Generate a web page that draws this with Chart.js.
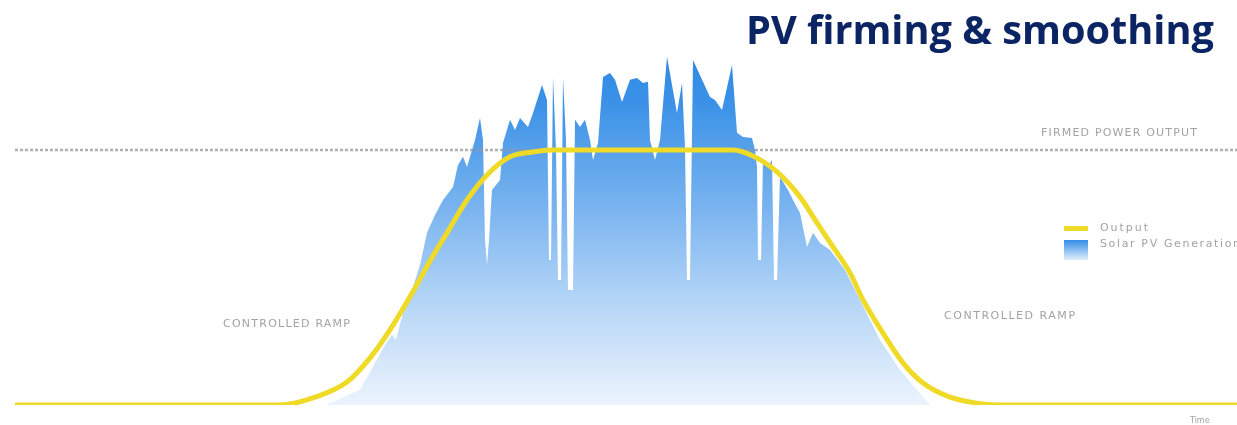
<!DOCTYPE html>
<html>
<head>
<meta charset="utf-8">
<script src="https://cdn.jsdelivr.net/npm/chart.js@4"></script>
<style>
  body { margin: 0; background: #fff; }
  #pv-chart { display: block; }
</style>
</head>
<body>
<canvas id="pv-chart" width="1237" height="425"></canvas>
<script>
// time axis is in arbitrary minutes, power in % of the firmed level
var pvTime = [305, 340, 365, 372, 376, 385, 393, 400, 407, 415, 423, 433, 438, 443, 447, 455, 460, 463, 465, 467, 469, 472, 480, 483, 490, 495, 500, 508, 513, 522, 527, 529, 531, 533, 536, 538, 541, 543, 546, 548, 553, 555, 560, 565, 570, 573, 578, 583, 590, 595, 602, 610, 617, 623, 628, 630, 635, 640, 647, 657, 662, 665, 667, 670, 673, 690, 695, 702, 712, 717, 723, 732, 735, 737, 738, 741, 743, 748, 752, 754, 757, 760, 768, 773, 780, 787, 793, 800, 810, 825, 840, 860, 880, 910];
var pvPower = [0, 5.9, 23.5, 27.5, 25.5, 39.2, 46.3, 54.9, 67.5, 74.5, 80.4, 85.5, 94.1, 97.3, 93.3, 103.9, 112.5, 103.9, 64.7, 54.9, 64.7, 84.3, 88.2, 102.7, 111.8, 107.8, 112.5, 109.0, 114.5, 125.5, 119.6, 56.9, 56.9, 128.6, 100, 49.0, 49.0, 128.2, 103.9, 45.1, 45.1, 111.8, 109.0, 111.8, 103.9, 96.1, 102.7, 128.6, 130.2, 127.5, 118.8, 127.5, 128.2, 126.3, 126.7, 103.9, 96.1, 103.9, 136.5, 114.5, 126.3, 101.2, 49.0, 49.0, 135.3, 120.8, 119.6, 115.7, 133.3, 106.7, 105.1, 104.7, 100, 93.3, 56.9, 56.9, 96.1, 93.3, 96.1, 49.0, 49.0, 89.4, 84.3, 80.4, 75.3, 62.0, 67.5, 63.5, 60.8, 52.9, 41.2, 25.5, 13.7, 0];

var outTime = [-5, 260, 293, 327, 350, 370, 393, 410, 427, 447, 467, 490, 513, 530, 713, 733, 757, 780, 797, 813, 830, 843, 863, 883, 903, 930, 963, 980, 1217];
var outPower = [0, 0, 2.8, 9.0, 18.5, 29.5, 44.5, 56.5, 67.5, 80.4, 90.2, 97.3, 99.2, 100, 100, 97.6, 91.4, 81.6, 71.4, 62.0, 51.8, 41.2, 28.2, 16.5, 8.6, 3.1, 0.4, 0, 0];

var firmTime = [-5, 1217];
var firmPower = [100, 100];

var yellow = 'rgb(240, 218, 40)';
var greyText = '#a3a3a3';

function toPoints(xs, ys) {
  return xs.map(function (x, i) { return { x: x, y: ys[i] }; });
}

function blueFill(context) {
  var chart = context.chart;
  var area = chart.chartArea;
  if (!area) return 'rgba(80,160,235,0.8)';
  var g = chart.ctx.createLinearGradient(0, area.top, 0, area.bottom);
  g.addColorStop(0.0, 'rgb(36, 128, 224)');
  g.addColorStop(0.25, 'rgb(58, 145, 231)');
  g.addColorStop(0.5, 'rgb(118, 178, 239)');
  g.addColorStop(0.75, 'rgb(182, 214, 247)');
  g.addColorStop(1.0, 'rgb(236, 244, 253)');
  return g;
}

// draws text stretched to a given width by spacing the letters
function spacedText(c, txt, x, y, width) {
  c.letterSpacing = '0px';
  var w = c.measureText(txt).width;
  var gap = Math.max(0, (width - w) / (txt.length - 1));
  c.letterSpacing = gap.toFixed(2) + 'px';
  c.fillText(txt, x, y);
  c.letterSpacing = '0px';
}

// annotations and the hand-placed legend
var textPlugin = {
  id: 'pvText',
  afterDraw: function (chart) {
    var c = chart.ctx;
    c.save();
    // title
    c.fillStyle = '#0b2463';
    var size = 36;
    c.font = 'bold ' + size + 'px "Open Sans", sans-serif';
    var w = c.measureText('PV firming & smoothing').width;
    size = size * 468 / w;
    c.font = 'bold ' + size + 'px "Open Sans", sans-serif';
    c.textBaseline = 'alphabetic';
    c.textAlign = 'left';
    c.fillText('PV firming & smoothing', 746, 44);

    c.fillStyle = greyText;
    c.font = '11px "DejaVu Sans", sans-serif';
    c.textBaseline = 'middle';
    spacedText(c, 'FIRMED POWER OUTPUT', 1041, 133, 156);
    spacedText(c, 'CONTROLLED RAMP', 223, 324, 127);
    spacedText(c, 'CONTROLLED RAMP', 944, 316, 131);
    c.font = '8px "DejaVu Sans", sans-serif';
    c.fillText('Time', 1190, 421);

    // legend
    c.fillStyle = yellow;
    c.fillRect(1064, 226, 24, 5);
    var lg = c.createLinearGradient(0, 240, 0, 260);
    lg.addColorStop(0, 'rgb(50, 140, 230)');
    lg.addColorStop(1, 'rgb(225, 238, 252)');
    c.fillStyle = lg;
    c.fillRect(1064, 240, 24, 20);
    c.fillStyle = greyText;
    c.font = '11px "DejaVu Sans", sans-serif';
    spacedText(c, 'Output', 1100, 228, 48);
    spacedText(c, 'Solar PV Generation', 1100, 244, 140);
    c.restore();
  }
};

var ctx = document.getElementById('pv-chart');
var myChart = new Chart(ctx, {
  type: 'line',
  data: {
    datasets: [{
      label: 'Output',
      data: toPoints(outTime, outPower),
      borderColor: yellow,
      borderWidth: 5,
      pointRadius: 0,
      cubicInterpolationMode: 'monotone',
      fill: false
    }, {
      label: 'Firmed power output',
      data: toPoints(firmTime, firmPower),
      borderColor: 'rgba(150, 150, 150, 0.75)',
      borderWidth: 2.5,
      borderDash: [3, 2],
      pointRadius: 0,
      fill: false
    }, {
      label: 'Solar PV Generation',
      data: toPoints(pvTime, pvPower),
      borderColor: 'rgba(0,0,0,0)',
      borderWidth: 0,
      backgroundColor: blueFill,
      pointRadius: 0,
      tension: 0,
      fill: 'origin'
    }]
  },
  options: {
    responsive: false,
    animation: false,
    layout: { padding: { left: 15, right: 0, top: 0, bottom: 20 } },
    scales: {
      x: { type: 'linear', min: -5, max: 1217, display: false },
      y: { min: 0, max: 158.8, display: false }
    },
    plugins: {
      legend: { display: false },
      tooltip: { enabled: false }
    }
  },
  plugins: [textPlugin]
});
</script>
</body>
</html>
